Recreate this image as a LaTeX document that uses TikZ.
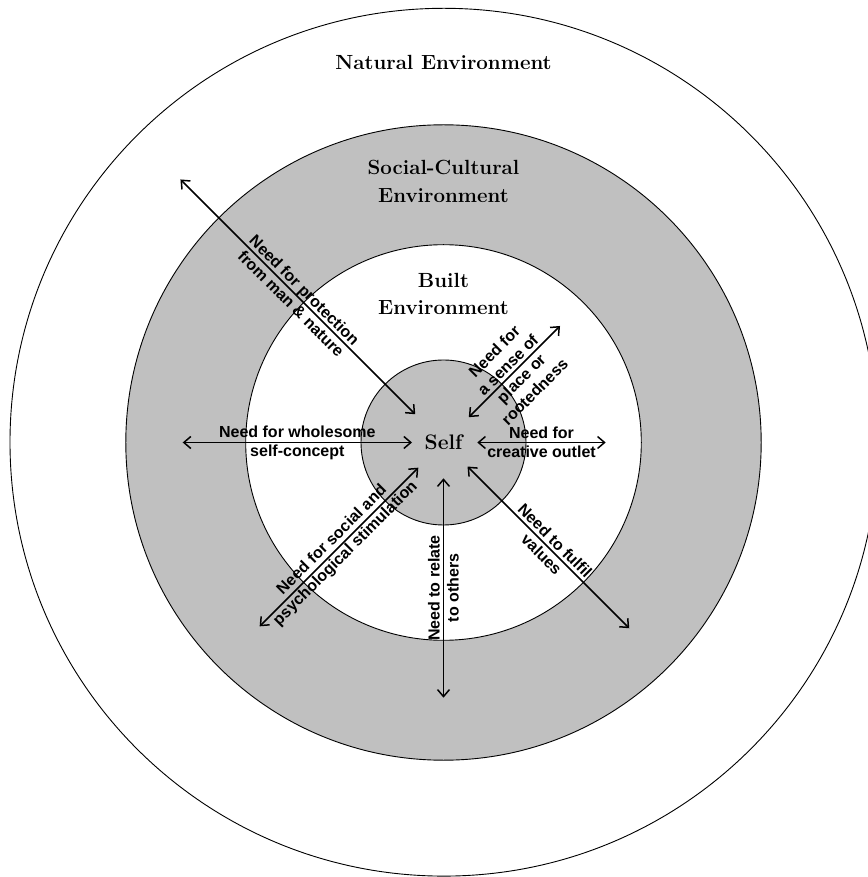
\documentclass[tikz,border=0pt]{standalone}
\usepackage{fontspec}
\newfontfamily\labelfont{Liberation Sans}
\usetikzlibrary{arrows.meta}
\definecolor{ringgray}{RGB}{192,192,192}
\tikzset{
  ring/.style={circle, draw=black, line width=0.9pt, inner sep=0pt, outer sep=0pt},
  need/.style={{Straight Barb[length=7pt,width=12pt]}-{Straight Barb[length=7pt,width=12pt]}, line width=1.5pt},
  needlabel/.style={align=center, inner sep=0pt, font=\labelfont\bfseries\fontsize{16}{19}\selectfont},
  envlabel/.style={align=center, inner sep=0pt, font=\bfseries\fontsize{20.5}{27.5}\selectfont},
}
\begin{document}
\begin{tikzpicture}[x=1pt,y=1pt]
\useasboundingbox (-443.5pt,-434.5pt) rectangle (423.5pt,442.5pt);
% rings
\node[ring, fill=white, minimum size=867.8pt] (natural) at (0.4pt,0.3pt) {};
\node[ring, fill=ringgray, minimum size=635.4pt] (social) at (0,0) {};
\node[ring, fill=white, minimum size=395.6pt] (built) at (0,0) {};
\node[ring, fill=ringgray, minimum size=165pt, font=\bfseries\fontsize{21}{25}\selectfont] (self) at (0,0) {Self};
% environment labels
\node[envlabel, anchor=base] (natlabel) at (0,372.5pt) {Natural Environment};
\node[envlabel] (soclabel) at (0,261.3pt) {Social-Cultural\\Environment};
\node[envlabel] (builtlabel) at (0,148.3pt) {Built\\Environment};
% arrow end points
\coordinate (p1) at (135:40pt);   \coordinate (q1) at (135:372pt);
\coordinate (p2) at (45:35.8pt);  \coordinate (q2) at (45:164.8pt);
\coordinate (p3) at (180:31.5pt); \coordinate (q3) at (180:260.8pt);
\coordinate (p4) at (0:33.8pt);   \coordinate (q4) at (0:162.2pt);
\coordinate (p5) at (225:35.6pt); \coordinate (q5) at (225:260pt);
\coordinate (p6) at (270:35.8pt); \coordinate (q6) at (270:255.2pt);
\coordinate (p7) at (315:34pt);   \coordinate (q7) at (315:262.7pt);
% needs
\draw[need] (p1) -- node[needlabel, rotate=-45] (l1) {Need for protection\\from man \& nature} (q1);
\draw[need] (p2) -- node[needlabel, rotate=45] (l2) {Need for\\a sense of\\place or\\rootedness} (q2);
\draw[need] (p3) -- node[needlabel] (l3) {Need for wholesome\\self-concept} (q3);
\draw[need] (p4) -- node[needlabel] (l4) {Need for\\creative outlet} (q4);
\draw[need] (p5) -- node[needlabel, rotate=45] (l5) {Need for social and\\psychological stimulation} (q5);
\draw[need] (p6) -- node[needlabel, rotate=90] (l6) {Need to relate\\to others} (q6);
\draw[need] (p7) -- node[needlabel, rotate=-45] (l7) {Need to fulfil\\values} (q7);
\end{tikzpicture}
\end{document}
